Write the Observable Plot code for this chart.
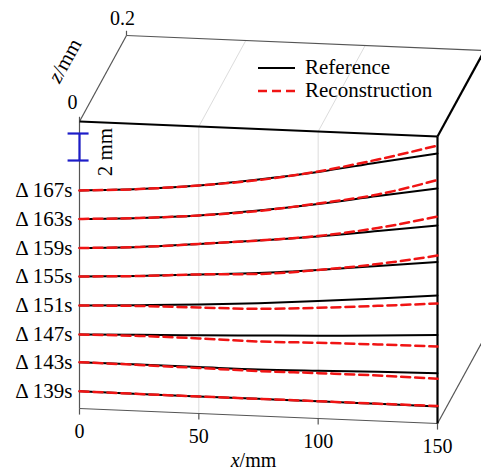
<!DOCTYPE html>
<html><head><meta charset="utf-8">
<script src="https://cdn.jsdelivr.net/npm/d3@7"></script>
<script src="https://cdn.jsdelivr.net/npm/@observablehq/plot@0.6"></script>
<style>
body{margin:0;background:#fff;font-family:"Liberation Serif","Times New Roman",serif}
#chart{position:relative;width:481px;height:475px}
#legend{position:absolute;left:258px;top:56px;font-size:21px;line-height:23px;color:#000}
#legend div{display:flex;align-items:center;height:23px}
#legend svg{margin-right:10px}
</style></head><body>
<div id="chart"><div id="legend">
<div><svg width="37" height="6"><line x1="0" x2="37" y1="3" y2="3" stroke="#000" stroke-width="2"/></svg>Reference</div>
<div><svg width="37" height="6"><line x1="0" x2="37" y1="3" y2="3" stroke="#f01414" stroke-width="2.5" stroke-dasharray="9,5"/></svg>Reconstruction</div>
</div></div>
<script>
// sample positions along x (mm)
const xs = [0, 25, 50, 75, 100, 125, 150];
const times = [167, 163, 159, 155, 151, 147, 143, 139];
// vertical position of each trace (mm, stacked display), reference vs reconstruction
const ref167 = [16.15, 16.44, 16.89, 17.52, 18.26, 19.15, 20.00];
const rec167 = [16.15, 16.44, 16.89, 17.48, 18.30, 19.37, 20.59];
const ref163 = [14.04, 14.30, 14.67, 15.22, 15.89, 16.67, 17.41];
const rec163 = [14.04, 14.30, 14.67, 15.19, 15.93, 16.78, 18.04];
const ref159 = [11.89, 12.15, 12.56, 13.00, 13.48, 14.07, 14.67];
const rec159 = [11.89, 12.15, 12.56, 13.00, 13.52, 14.30, 15.33];
const ref155 = [9.78, 10.00, 10.30, 10.59, 11.00, 11.48, 11.96];
const rec155 = [9.78, 10.00, 10.30, 10.52, 11.00, 11.63, 12.44];
const ref151 = [7.63, 7.84, 8.08, 8.36, 8.70, 9.08, 9.48];
const rec151 = [7.63, 7.78, 7.85, 7.94, 8.20, 8.53, 8.89];
const ref147 = [5.48, 5.64, 5.79, 5.96, 6.13, 6.33, 6.56];
const rec147 = [5.48, 5.56, 5.56, 5.52, 5.61, 5.67, 5.70];
const ref143 = [3.43, 3.44, 3.44, 3.44, 3.53, 3.64, 3.73];
const rec143 = [3.43, 3.41, 3.37, 3.33, 3.36, 3.37, 3.31];
const ref139 = [1.28, 1.26, 1.26, 1.27, 1.28, 1.27, 1.26];
const rec139 = [1.28, 1.26, 1.26, 1.27, 1.28, 1.28, 1.30];
const xTicks = [0, 50, 100, 150];
const zTicks = [0, 0.2];
const gridX = [50, 100];
const xDomain = [0, 150];
const zDomain = [0, 0.2];
const boxH = 21.26;     // height of front face (mm of display)
const scaleBar = [18.37, 20.37]; // 2 mm bar

const refs = [ref167, ref163, ref159, ref155, ref151, ref147, ref143, ref139];
const recs = [rec167, rec163, rec159, rec155, rec151, rec147, rec143, rec139];

// oblique projection of (x, h, z)
const zx = 98.45, zh = 31.85, shear = 1.111 / 150;
const P = (x, h, z = 0) => [x + z * zx, h - x * shear + z * zh];

const refRows = [], recRows = [];
times.forEach((t, i) => {
  xs.forEach((x, j) => {
    const a = P(x, refs[i][j]); refRows.push({t, px: a[0], py: a[1]});
    const b = P(x, recs[i][j]); recRows.push({t, px: b[0], py: b[1]});
  });
});
const labelRows = times.map((t, i) => { const p = P(0, refs[i][0]); return {label: "\u0394 " + t + "s", px: p[0], py: p[1]}; });

const [x0, x1] = xDomain, [z0, z1] = zDomain;
const seg = (a, b) => ({x1: a[0], y1: a[1], x2: b[0], y2: b[1]});
const thinEdges = [
  seg(P(x0, 0, z0), P(x0, boxH, z0)),
  seg(P(x0, 0, z0), P(x1, 0, z0)),
  seg(P(x0, boxH, z0), P(x0, boxH, z1)),
  seg(P(x0, boxH, z1), P(x1, boxH, z1)),
  seg(P(x1, 0, z0), P(x1, 0, z1)),
  seg(P(x1, 0, z1), P(x1, boxH, z1))
];
const thickEdges = [
  seg(P(x0, boxH, z0), P(x1, boxH, z0)),
  seg(P(x1, 0, z0), P(x1, boxH, z0)),
  seg(P(x1, boxH, z0), P(x1, boxH, z1))
];
const grid = gridX.flatMap(g => [seg(P(g, 0, z0), P(g, boxH, z0)), seg(P(g, boxH, z0), P(g, boxH, z1))]);
const xTickSegs = xTicks.map(v => { const p = P(v, 0, z0); return {...seg(p, [p[0], p[1] - 0.45]), label: String(v)}; });
const zTickSegs = zTicks.map(v => { const p = P(x0, boxH, v); return {...seg(p, [p[0], p[1] + 0.35]), label: String(v)}; });
const zMid = P(x0, boxH, (z0 + z1) / 2);
const xMid = P((x0 + x1) / 2, 0, z0);
const sb0 = P(x0, scaleBar[0]), sb1 = P(x0, scaleBar[1]);

const chart = Plot.plot({
  width: 481, height: 475,
  marginTop: 0, marginRight: 0, marginBottom: 0, marginLeft: 0,
  x: {domain: xDomain, range: [79, 437], axis: null},
  y: {domain: [0, boxH], range: [408, 121], axis: null},
  style: {fontFamily: '"Liberation Serif", "Times New Roman", serif', fontSize: "21px", background: "transparent", overflow: "visible"},
  marks: [
    Plot.link(grid, {x1: "x1", y1: "y1", x2: "x2", y2: "y2", stroke: "#dcdcdc", strokeWidth: 1}),
    Plot.link(thinEdges, {x1: "x1", y1: "y1", x2: "x2", y2: "y2", stroke: "#555", strokeWidth: 1.2}),
    Plot.link(xTickSegs, {x1: "x1", y1: "y1", x2: "x2", y2: "y2", stroke: "#555", strokeWidth: 1.2}),
    Plot.link(zTickSegs, {x1: "x1", y1: "y1", x2: "x2", y2: "y2", stroke: "#555", strokeWidth: 1.2}),
    Plot.link(thickEdges, {x1: "x1", y1: "y1", x2: "x2", y2: "y2", stroke: "#000", strokeWidth: 2.2}),
    Plot.line(refRows, {x: "px", y: "py", z: "t", stroke: "#000", strokeWidth: 2, curve: "monotone-x"}),
    Plot.line(recRows, {x: "px", y: "py", z: "t", stroke: "#f01414", strokeWidth: 2.5, strokeDasharray: "9,5", curve: "monotone-x"}),
    Plot.text(labelRows, {x: "px", y: "py", text: "label", textAnchor: "end", dx: -7, fill: "#000"}),
    Plot.text(xTickSegs, {x: "x1", y: "y1", text: "label", dy: 23, fontSize: 20, fill: "#000"}),
    Plot.text(zTickSegs.slice(0, 1), {x: "x1", y: "y1", text: "label", dx: -7, dy: -19, fontSize: 20, fill: "#000"}),
    Plot.text(zTickSegs.slice(1), {x: "x1", y: "y1", text: "label", dx: -4, dy: -17, fontSize: 20, fill: "#000"}),
    Plot.text([xMid], {x: d => d[0], y: d => d[1], text: () => "x/mm", dx: -5, dy: 45, fontSize: 20, fill: "#000"}),
    Plot.text([zMid], {x: d => d[0], y: d => d[1], text: () => "z/mm", dx: -38, dy: -18, rotate: -61, fill: "#000"}),
    // 2 mm scale bar
    Plot.link([seg(sb0, sb1)], {x1: "x1", y1: "y1", x2: "x2", y2: "y2", stroke: "#1c1cc8", strokeWidth: 2.2}),
    Plot.link([sb0, sb1].map(p => seg([p[0] - 5, p[1]], [p[0] + 3.8, p[1]])), {x1: "x1", y1: "y1", x2: "x2", y2: "y2", stroke: "#1c1cc8", strokeWidth: 2.2}),
    Plot.text([P(x0, (scaleBar[0] + scaleBar[1]) / 2)], {x: d => d[0], y: d => d[1], text: () => "2 mm", dx: 26, dy: 5, rotate: -90, fill: "#000"})
  ]
});

d3.select(chart).selectAll("text").each(function () {
  const s = this.textContent;
  if (s === "x/mm" || s === "z/mm") {
    this.textContent = "";
    const sel = d3.select(this);
    sel.append("tspan").attr("font-style", "italic").text(s[0]);
    sel.append("tspan").text(s.slice(1));
  }
});
chart.style.position = "absolute";
chart.style.left = "0px";
chart.style.top = "0px";
const host = document.getElementById("chart");
host.insertBefore(chart, host.firstChild);
</script>
</body></html>
